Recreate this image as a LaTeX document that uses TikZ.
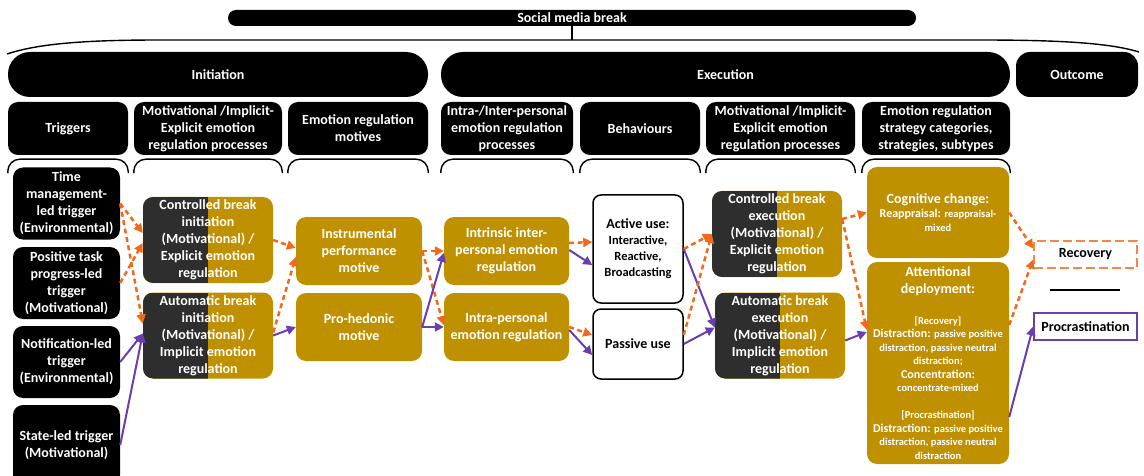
\documentclass[tikz,border=0pt]{standalone}
\usepackage{fontspec}
\setmainfont{Carlito}
\usetikzlibrary{arrows.meta}

\definecolor{gold}{HTML}{BF9000}
\definecolor{halfdark}{HTML}{2E2E2E}
\definecolor{orangeline}{HTML}{EE6A1C}
\definecolor{purpleline}{HTML}{6A3EAF}

\newcommand{\dtl}[1]{{\fontsize{10.5}{13.5}\selectfont #1}}

\begin{document}
\begin{tikzpicture}[x=1pt, y=-1pt,
  font=\bfseries\fontsize{14}{17}\selectfont,
  blk/.style={fill=black, text=white, rounded corners=10pt, align=center, inner sep=0pt},
  pill/.style={blk, rounded corners=22pt, minimum height=45pt},
  hdr/.style={blk, minimum height=53pt},
  trig/.style={blk, minimum width=107pt, minimum height=72pt},
  gbox/.style={fill=gold, text=white, rounded corners=10pt, align=center, inner sep=0pt,
    minimum width=126pt, minimum height=68pt},
  sbox/.style={gbox, minimum width=130pt, minimum height=86pt,
    path picture={\fill[halfdark, sharp corners] (path picture bounding box.north west)
      rectangle (path picture bounding box.south);}},
  wbox/.style={draw=black, line width=1.5pt, rounded corners=8pt, align=center, inner sep=0pt,
    minimum width=90pt},
  outbox/.style={line width=1.6pt, minimum width=103pt, minimum height=27pt, inner sep=0pt},
  orangeArr/.style={color=orangeline, line width=2.5pt, dash pattern=on 5pt off 3.5pt,
    -{Triangle[length=9pt, width=9pt]}},
  purpleArr/.style={color=purpleline, line width=2pt, -{Triangle[length=9pt, width=9pt]}}]
  \useasboundingbox (0,0) rectangle (1144,476);

  % top
  \node[blk, rounded corners=8pt, minimum width=688pt, minimum height=16pt] (smb) at (572,18) {Social media break};
  \draw[line width=1.4pt] (smb.south) -- (572,40);
  \draw[line width=1.4pt] (7,54) .. controls (40,43) and (90,40) .. (160,40) -- (980,40)
    .. controls (1060,40) and (1110,43) .. (1139,52);

  \node[pill, minimum width=420pt] (init) at (218,74.5) {Initiation};
  \node[pill, minimum width=569pt] (exec) at (725.5,74.5) {Execution};
  \node[pill, rounded corners=14pt, minimum width=122pt] (outc) at (1077,74.5) {Outcome};

  \node[hdr, minimum width=120pt] (trg) at (68,128.5) {Triggers};
  \node[hdr, minimum width=148pt] (mot1) at (208,128.5) {Motivational /Implicit-\\Explicit emotion\\regulation processes};
  \node[hdr, minimum width=140pt] (erm) at (358,128.5) {Emotion regulation\\motives};
  \node[hdr, minimum width=132pt] (iir) at (507,128.5) {Intra-/Inter-personal\\emotion regulation\\processes};
  \node[hdr, minimum width=120pt] (beh) at (640,128.5) {Behaviours};
  \node[hdr, minimum width=149pt] (mot2) at (780.5,128.5) {Motivational /Implicit-\\Explicit emotion\\regulation processes};
  \node[hdr, minimum width=148pt] (ers) at (936,128.5) {Emotion regulation\\strategy categories,\\strategies, subtypes};

  \foreach \n in {trg,mot1,erm,iir,beh,mot2,ers}
    \draw[line width=1.4pt, rounded corners=12pt] ([yshift=-18pt]\n.south west)
      -- ([yshift=-4pt]\n.south west) -- ([yshift=-4pt]\n.south east) -- ([yshift=-18pt]\n.south east);

  % columns
  \node[trig] (tm) at (66.5,203.5) {Time\\management-\\led trigger\\(Environmental)};
  \node[trig] (pt) at (66.5,283) {Positive task\\progress-led\\trigger\\(Motivational)};
  \node[trig] (nt) at (66.5,362) {Notification-led\\trigger\\(Environmental)};
  \node[trig, minimum height=80pt] (st) at (66.5,445) {State-led trigger\\(Motivational)};

  \node[sbox] (ci) at (208,240) {Controlled break\\initiation\\(Motivational) /\\Explicit emotion\\regulation};
  \node[sbox] (ai) at (208,335.5) {Automatic break\\initiation\\(Motivational) /\\Implicit emotion\\regulation};

  \node[gbox] (ipm) at (359,251) {Instrumental\\performance\\motive};
  \node[gbox] (ph) at (359,327) {Pro-hedonic\\motive};

  \node[gbox, minimum width=125pt] (iip) at (506.5,251) {Intrinsic inter-\\personal emotion\\regulation};
  \node[gbox, minimum width=125pt] (irp) at (506.5,327) {Intra-personal\\emotion regulation};

  \node[wbox, minimum height=108pt, font=\bfseries\fontsize{12.5}{16}\selectfont] (act) at (638,249)
    {{\fontsize{14}{17}\selectfont Active use:}\\Interactive,\\Reactive,\\Broadcasting};
  \node[wbox, minimum height=70pt] (pas) at (638,344) {Passive use};

  \node[sbox] (ce) at (777,234) {Controlled break\\execution\\(Motivational) /\\Explicit emotion\\regulation};
  \node[sbox] (ae) at (780,335.5) {Automatic break\\execution\\(Motivational) /\\Implicit emotion\\regulation};

  \node[gbox, minimum width=142pt, minimum height=91pt, font=\bfseries\fontsize{12}{14}\selectfont] (cog) at (938,212.5)
    {{\fontsize{14}{17}\selectfont Cognitive change:}\\Reappraisal: \dtl{reappraisal-}\\\dtl{mixed}};
  \node[gbox, minimum width=142pt, minimum height=202pt, font=\bfseries\fontsize{12}{13.5}\selectfont] (att) at (938,363)
    {{\fontsize{14}{17}\selectfont Attentional}\\[3.5pt]{\fontsize{14}{17}\selectfont deployment:}\\[17.5pt]
     \dtl{[Recovery]}\\Distraction: \dtl{passive positive}\\\dtl{distraction, passive neutral}\\\dtl{distraction;}\\
     Concentration:\\\dtl{concentrate-mixed}\\[13.5pt]
     \dtl{[Procrastination]}\\Distraction: \dtl{passive positive}\\\dtl{distraction, passive neutral}\\\dtl{distraction}};

  \node[outbox, draw=orangeline!80, dash pattern=on 9pt off 4pt] (rec) at (1085.5,254.5) {Recovery};
  \node[outbox, draw=purpleline] (proc) at (1085.5,326.5) {Procrastination};
  \draw[line width=1.4pt] (1050,290) -- (1120,290);

  % links
  \draw[orangeArr] (tm.east) -- ([yshift=7pt]ci.west);
  \draw[orangeArr] (tm.east) -- ([yshift=12pt]ai.west);
  \draw[orangeArr] (pt.east) -- ([yshift=-3pt]ci.west);
  \draw[purpleArr] (nt.east) -- ([yshift=2pt]ai.west);
  \draw[purpleArr] (st.east) -- ([yshift=2pt]ai.west);

  \draw[orangeArr] (ci.east) -- ([yshift=3pt]ipm.west);
  \draw[orangeArr] ([yshift=3pt]ai.east) -- ([yshift=-6pt]ipm.west);
  \draw[purpleArr] (ai.east) -- (ph.west);

  \draw[orangeArr] (ipm.east) -- (iip.west);
  \draw[orangeArr] (ipm.east) -- ([yshift=2pt]irp.west);
  \draw[purpleArr] (ph.east) -- ([yshift=-2pt]iip.west);
  \draw[purpleArr] (ph.east) -- (irp.west);

  \draw[orangeArr] ([yshift=8pt]iip.east) -- ([yshift=7pt]act.west);
  \draw[purpleArr] ([yshift=1pt]iip.east) -- ([yshift=-16pt]act.west);
  \draw[orangeArr] (irp.east) -- ([yshift=9pt]pas.west);
  \draw[purpleArr] ([yshift=-3pt]irp.east) -- ([yshift=-11pt]pas.west);

  \draw[orangeArr] (act.east) -- (ce.west);
  \draw[purpleArr] (act.east) -- ([yshift=8pt]ae.west);
  \draw[orangeArr] ([yshift=9pt]pas.east) -- (ce.west);
  \draw[purpleArr] (pas.east) -- ([yshift=8pt]ae.west);

  \draw[orangeArr] ([yshift=15pt]ce.east) -- (cog.west);
  \draw[orangeArr] ([yshift=15pt]ce.east) -- ([yshift=33pt]att.west);
  \draw[purpleArr] ([yshift=-5pt]ae.east) -- ([yshift=31pt]att.west);

  \draw[orangeArr] (cog.east) -- ([yshift=6pt]rec.west);
  \draw[orangeArr] ([yshift=38pt]att.east) -- ([yshift=-5pt]rec.west);
  \draw[purpleArr] ([yshift=-54pt]att.east) -- (proc.west);
\end{tikzpicture}
\end{document}
